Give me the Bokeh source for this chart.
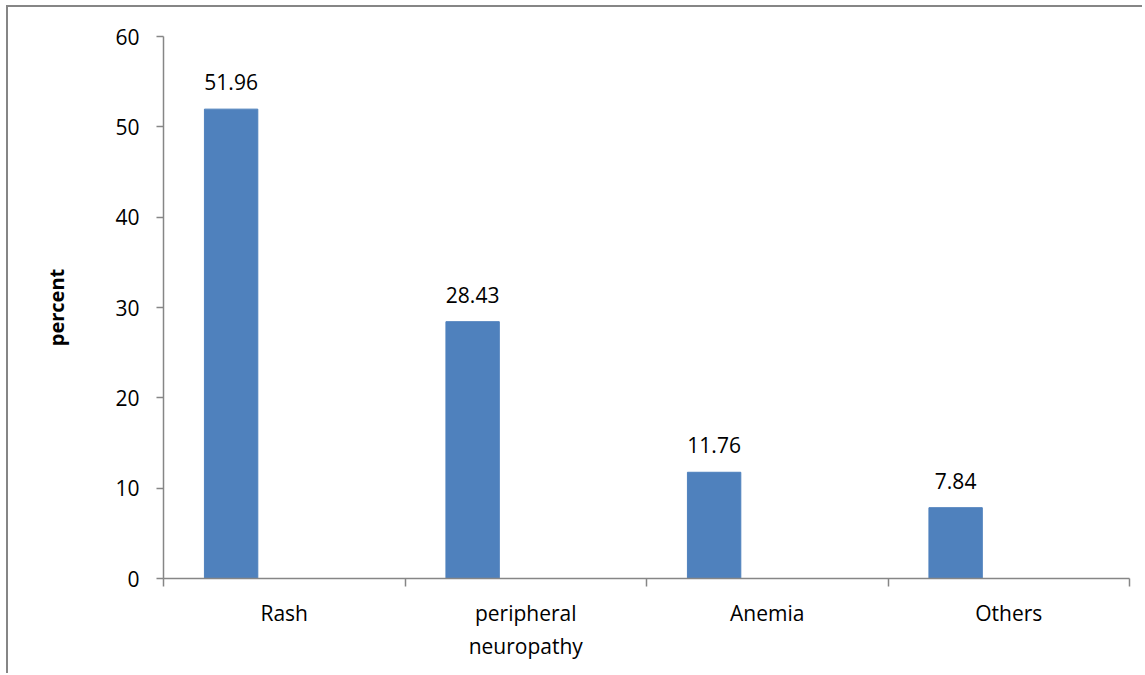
from bokeh.plotting import figure
from bokeh.models import (ColumnDataSource, LabelSet, Range1d, FixedTicker,
                          LinearAxis)
from bokeh.core.properties import value
from bokeh.embed import file_html
from bokeh.resources import INLINE

categories = ["Rash", "peripheral\nneuropathy", "Anemia", "Others"]
values = [51.96, 28.43, 11.76, 7.84]
y_ticks = [0, 10, 20, 30, 40, 50, 60]

FONT = "Open Sans"
GRAY = "#868686"
BAR = "#4F81BD"

n = len(categories)
bar_x = [i + 0.28 for i in range(n)]
cat_x = [i + 0.5 for i in range(n)]

bars = ColumnDataSource(dict(x=bar_x, top=values,
                             label=[f"{v:.2f}" for v in values]))

p = figure(width=1136, height=668, output_backend="svg", toolbar_location=None,
           x_range=Range1d(0, n), y_range=Range1d(y_ticks[0], y_ticks[-1]),
           x_axis_type=None, y_axis_type=None,
           min_border_left=155, min_border_top=29, min_border_right=15,
           min_border_bottom=97)
p.styles = {"border-left": "2px solid #868686", "border-top": "2px solid #868686",
            "margin-left": "6px", "margin-top": "5px"}
p.outline_line_color = None
p.background_fill_color = "white"
p.border_fill_color = "white"

yax = LinearAxis(ticker=FixedTicker(ticks=y_ticks))
yax.axis_line_color = GRAY
yax.axis_line_width = 1.5
yax.major_tick_line_color = GRAY
yax.major_tick_line_width = 1.5
yax.major_tick_out = 7
yax.major_tick_in = 0
yax.minor_tick_line_color = None
yax.major_label_text_font = FONT
yax.major_label_text_font_size = "21px"
yax.major_label_text_color = "black"
yax.major_label_standoff = 17
yax.axis_label = "percent"
yax.axis_label_text_font = FONT
yax.axis_label_text_font_size = "20px"
yax.axis_label_text_font_style = "bold"
yax.axis_label_text_color = "black"
yax.axis_label_standoff = 42
p.add_layout(yax, "left")

xax = LinearAxis(ticker=FixedTicker(ticks=list(range(n + 1))))
xax.axis_line_color = GRAY
xax.axis_line_width = 1.5
xax.major_tick_line_color = GRAY
xax.major_tick_line_width = 1.5
xax.major_tick_out = 8
xax.major_tick_in = 0
xax.minor_tick_line_color = None
xax.major_label_overrides = {i: "" for i in range(n + 1)}
xax.major_label_text_font_size = "1px"
xax.major_label_standoff = 0
p.add_layout(xax, "below")

xlab = LinearAxis(ticker=FixedTicker(ticks=cat_x))
xlab.axis_line_color = None
xlab.major_tick_line_color = None
xlab.minor_tick_line_color = None
xlab.major_tick_out = 0
xlab.major_tick_in = 0
xlab.major_label_overrides = {x: c for x, c in zip(cat_x, categories)}
xlab.major_label_text_font = FONT
xlab.major_label_text_font_size = "21px"
xlab.major_label_text_color = "black"
xlab.major_label_standoff = 12
p.add_layout(xlab, "below")

p.ygrid.ticker = FixedTicker(ticks=y_ticks)
p.ygrid.grid_line_color = GRAY
p.ygrid.grid_line_width = 1.5
p.xgrid.grid_line_color = None

p.vbar(x="x", top="top", width=0.221, source=bars, fill_color=BAR,
       line_color=BAR)

p.add_layout(LabelSet(x="x", y="top", text="label", source=bars,
                      text_align="center", text_baseline="alphabetic",
                      y_offset=19, text_font=value(FONT),
                      text_font_size="21px", text_color="black"))

open("out.html", "w").write(file_html(p, INLINE))
